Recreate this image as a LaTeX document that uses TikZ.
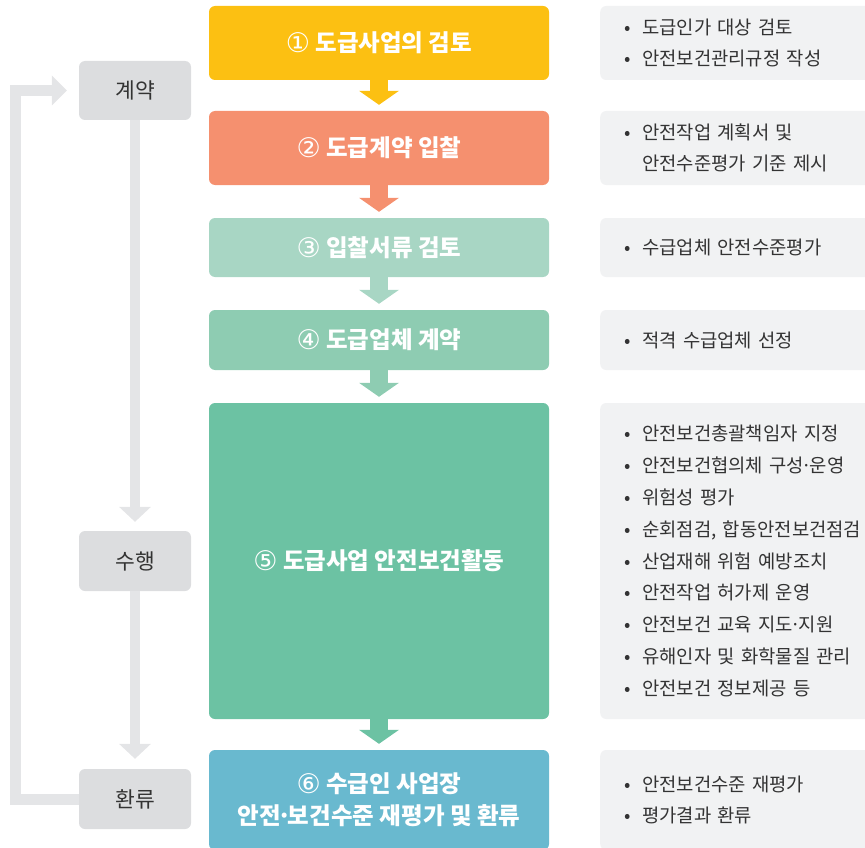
\documentclass[tikz,border=0pt]{standalone}
\usepackage{fontspec}
\setmainfont{Noto Sans CJK KR}
\newfontfamily\djf{DejaVu Sans}
\usetikzlibrary{arrows.meta}
\definecolor{cA}{HTML}{FCC012}
\definecolor{cB}{HTML}{F5906F}
\definecolor{cC}{HTML}{A8D6C4}
\definecolor{cD}{HTML}{8ECCB2}
\definecolor{cE}{HTML}{6CC2A3}
\definecolor{cF}{HTML}{69B9CF}
\definecolor{phase}{HTML}{DCDDDF}
\definecolor{conn}{HTML}{E4E5E7}
\definecolor{note}{HTML}{F1F2F3}
\definecolor{ink}{HTML}{333333}
\newcommand\bl{\makebox[12pt][c]{•}\hspace{9pt}}
\newcommand\cont{\hspace*{21pt}}
\newcommand\md{\makebox[0.3em][c]{·}}
\newcommand\cn[1]{{\djf\mdseries\fontsize{27}{32}\selectfont\raisebox{-1pt}{#1}}}
\tikzset{
  flowbox/.style={rounded corners=6pt, minimum width=340pt, inner sep=0pt, text=white,
    font=\fontsize{23.5}{32}\selectfont\bfseries, align=center},
  phasebox/.style={fill=phase, rounded corners=6pt, minimum width=112pt, inner sep=0pt,
    minimum height=60pt, text=ink, font=\fontsize{21.5}{24}\selectfont},
  notebox/.style={fill=note, rounded corners=6pt, anchor=west, inner xsep=21pt, inner ysep=0pt,
    text width=244pt, align=left, text=ink, font=\fontsize{18.8}{31.8}\selectfont},
  fatarrow/.style={line width=18pt, shorten >=6pt,
    -{Triangle[width=40pt,length=14pt,line width=0pt]}},
  grayarrow/.style={conn, line width=10pt,
    -{Triangle[width=32pt,length=15pt,line width=0pt]}},
}
\begin{document}
\begin{tikzpicture}[x=1pt,y=-1pt]
\useasboundingbox (0,0) rectangle (865,848);
% center flow boxes
\node[flowbox, fill=cA, minimum height=74pt] (b1) at (379,43) {\cn{①} 도급사업의 검토};
\node[flowbox, fill=cB, minimum height=74pt] (b2) at (379,148) {\cn{②} 도급계약 입찰};
\node[flowbox, fill=cC, minimum height=59pt] (b3) at (379,247.5) {\cn{③} 입찰서류 검토};
\node[flowbox, fill=cD, minimum height=60pt] (b4) at (379,340) {\cn{④} 도급업체 계약};
\node[flowbox, fill=cE, minimum height=316pt] (b5) at (379,561) {\cn{⑤} 도급사업 안전보건활동};
\node[flowbox, fill=cF, minimum height=100pt] (b6) at (379,800) {\cn{⑥} 수급인 사업장\\안전\md 보건수준 재평가 및 환류};
% arrows between flow boxes
\draw[fatarrow, cA] (b1.south) -- (b2.north);
\draw[fatarrow, cB] (b2.south) -- (b3.north);
\draw[fatarrow, cC] (b3.south) -- (b4.north);
\draw[fatarrow, cD] (b4.south) -- (b5.north);
\draw[fatarrow, cE] (b5.south) -- (b6.north);
% phase boxes
\node[phasebox, minimum height=59pt] (gy) at (135,90.5) {계약};
\node[phasebox] (sh) at (135,561) {수행};
\node[phasebox] (hr) at (135,799) {환류};
\coordinate (lx) at (15.5,0);
\draw[grayarrow, shorten >=9pt] (gy.south) -- (sh.north);
\draw[grayarrow, shorten >=10pt] (sh.south) -- (hr.north);
\draw[conn, line width=11pt, line join=miter, shorten >=12pt,
  -{Triangle[width=30pt,length=15pt,line width=0pt]}]
  (hr.west) -| (lx |- gy.west) -- (gy.west);
% note boxes
\node[notebox, minimum height=74pt] (n1) at (600,43) {\bl 도급인가 대상 검토\\\bl 안전보건관리규정 작성};
\node[notebox, minimum height=74pt] (n2) at (600,148) {\bl 안전작업 계획서 및\\\cont 안전수준평가 기준 제시};
\node[notebox, minimum height=59pt] (n3) at (600,247.5) {\bl 수급업체 안전수준평가};
\node[notebox, minimum height=60pt] (n4) at (600,340) {\bl 적격 수급업체 선정};
\node[notebox, minimum height=316pt] (n5) at (600,561) {\bl 안전보건총괄책임자 지정\\\bl 안전보건협의체 구성\md 운영\\\bl 위험성 평가\\\bl 순회점검, 합동안전보건점검\\\bl 산업재해 위험 예방조치\\\bl 안전작업 허가제 운영\\\bl 안전보건 교육 지도\md 지원\\\bl 유해인자 및 화학물질 관리\\\bl 안전보건 정보제공 등};
\node[notebox, minimum height=100pt] (n6) at (600,800) {\bl 안전보건수준 재평가\\\bl 평가결과 환류};
\end{tikzpicture}
\end{document}
